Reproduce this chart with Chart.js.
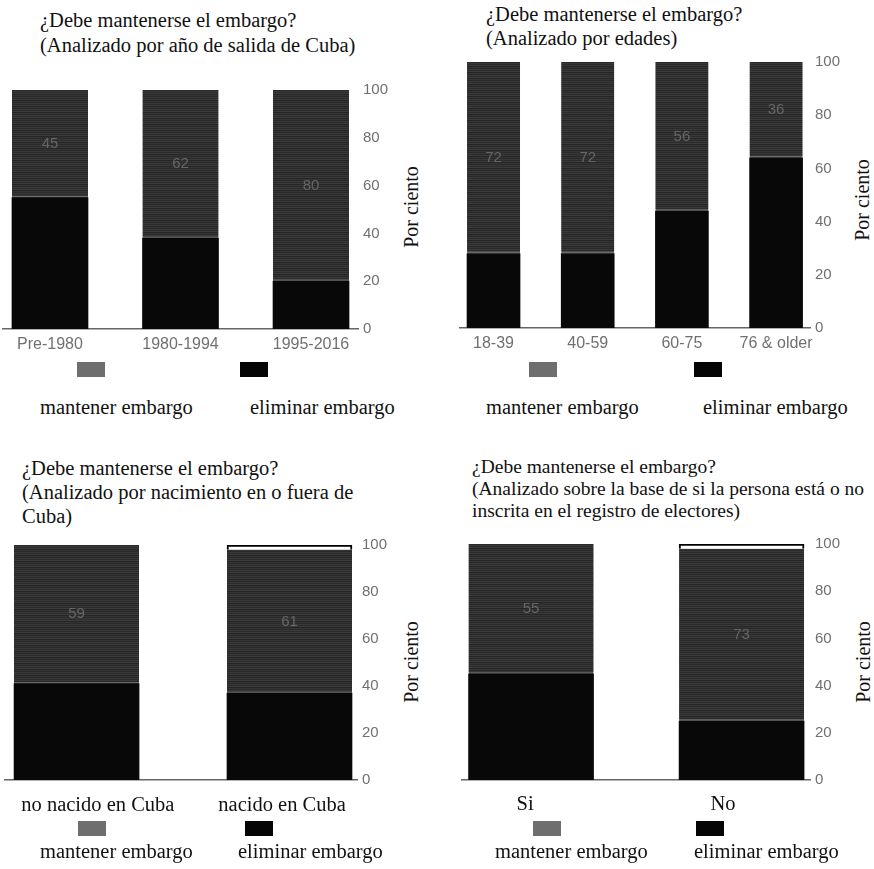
<!DOCTYPE html>
<html><head><meta charset="utf-8">
<script src="https://cdn.jsdelivr.net/npm/chart.js@4.4.1/dist/chart.umd.min.js"></script>
<style>
html,body{margin:0;padding:0;background:#fff;width:874px;height:869px;overflow:hidden;position:relative;font-family:'Liberation Serif','DejaVu Serif','Noto Serif','Times New Roman',Times,serif;color:#111;}
.cv{position:absolute;}
.t{position:absolute;white-space:nowrap;font-size:20.5px;line-height:24px;}
.sw{position:absolute;width:28px;height:15px;}
.lg{position:absolute;font-size:20.5px;line-height:22px;white-space:nowrap;transform:translateY(-50%);}
.yt{position:absolute;font-size:20px;line-height:22px;white-space:nowrap;transform:translate(-50%,-50%) rotate(-90deg);}
</style></head><body>

<div class="t" style="left:40px;top:8px;line-height:25px;">¿Debe mantenerse el embargo?<br>(Analizado por año de salida de Cuba)</div>
<div class="t" style="left:486px;top:2px;">¿Debe mantenerse el embargo?<br>(Analizado por edades)</div>
<div class="t" style="left:22px;top:456px;">¿Debe mantenerse el embargo?<br>(Analizado por nacimiento en o fuera de<br>Cuba)</div>
<div class="t" style="left:472px;top:456px;font-size:19.5px;line-height:22px;">¿Debe mantenerse el embargo?<br>(Analizado sobre la base de si la persona está o no<br>inscrita en el registro de electores)</div>

<canvas id="c1" class="cv" width="388" height="275" style="left:0px;top:80px;"></canvas>
<canvas id="c2" class="cv" width="383" height="302" style="left:457px;top:52px;"></canvas>
<canvas id="c3" class="cv" width="385" height="289" style="left:2px;top:535px;"></canvas>
<canvas id="c4" class="cv" width="381" height="290" style="left:459px;top:534px;"></canvas>

<div class="yt" style="left:411px;top:207px;">Por ciento</div>
<div class="yt" style="left:862px;top:200px;">Por ciento</div>
<div class="yt" style="left:411px;top:662px;">Por ciento</div>
<div class="yt" style="left:863px;top:662px;">Por ciento</div>

<div class="sw" style="left:77px;top:362px;background:#6e6e6e;"></div>
<div class="sw" style="left:240px;top:362px;background:#050505;"></div>
<div class="lg" style="left:40px;top:407px;">mantener embargo</div>
<div class="lg" style="left:250px;top:407px;">eliminar embargo</div>

<div class="sw" style="left:529px;top:362px;background:#6e6e6e;"></div>
<div class="sw" style="left:694px;top:362px;background:#050505;"></div>
<div class="lg" style="left:486px;top:407px;">mantener embargo</div>
<div class="lg" style="left:703px;top:407px;">eliminar embargo</div>

<div class="sw" style="left:78px;top:821px;background:#6e6e6e;"></div>
<div class="sw" style="left:245px;top:821px;background:#050505;"></div>
<div class="lg" style="left:40px;top:851px;">mantener embargo</div>
<div class="lg" style="left:238px;top:851px;">eliminar embargo</div>

<div class="sw" style="left:533px;top:821px;background:#6e6e6e;"></div>
<div class="sw" style="left:696px;top:821px;background:#050505;"></div>
<div class="lg" style="left:495px;top:851px;">mantener embargo</div>
<div class="lg" style="left:694px;top:851px;">eliminar embargo</div>

<script>
// ---- data ----
const yTicks = [0, 20, 40, 60, 80, 100];

const cats1 = ['Pre-1980', '1980-1994', '1995-2016'];
const eliminar1 = [55, 38, 20];
const mantener1 = [45, 62, 80];

const cats2 = ['18-39', '40-59', '60-75', '76 & older'];
const eliminar2 = [28, 28, 44, 64];
const mantener2 = [72, 72, 56, 36];

const cats3 = ['no nacido en Cuba', 'nacido en Cuba'];
const eliminar3 = [41, 37];
const mantener3 = [59, 61];
const otro3 = [0, 2];

const cats4 = ['Si', 'No'];
const eliminar4 = [45, 25];
const mantener4 = [55, 73];
const otro4 = [0, 2];

// ---- styling helpers ----
const SERIF = "'Liberation Serif', 'DejaVu Serif', 'Noto Serif', 'Times New Roman', Times, serif";
const SANS = "'Liberation Sans', Arial, sans-serif";

function stripePattern() {
  const c = document.createElement('canvas');
  c.width = 8; c.height = 6;
  const g = c.getContext('2d');
  const rows = ['#2c2c2c', '#3a3a3a', '#262626', '#343434', '#2a2a2a', '#383838'];
  rows.forEach((col, i) => { g.fillStyle = col; g.fillRect(0, i, 8, 1); });
  return g.createPattern(c, 'repeat');
}
const pattern = stripePattern();

const valueLabels = {
  id: 'valueLabels',
  afterDatasetsDraw(chart) {
    const ctx = chart.ctx;
    const meta = chart.getDatasetMeta(1);
    const ds = chart.data.datasets[1];
    ctx.save();
    ctx.fillStyle = '#666';
    ctx.font = '15px ' + SANS;
    ctx.textAlign = 'center';
    ctx.textBaseline = 'middle';
    meta.data.forEach((el, i) => {
      const p = el.getProps(['x', 'y', 'base'], true);
      ctx.fillText(String(ds.data[i].y), p.x, (p.y + p.base) / 2);
    });
    ctx.restore();
  }
};

function makeChart(id, cats, elim, mant, otro, o) {
  const pts = arr => arr.map((v, i) => ({ x: i, y: v }));
  const datasets = [
    { label: 'eliminar embargo', data: pts(elim), backgroundColor: '#080808', barThickness: o.bw },
    { label: 'mantener embargo', data: pts(mant), backgroundColor: pattern, barThickness: o.bw,
      borderColor: '#6a6a6a', borderWidth: { bottom: 2, top: 0, left: 0, right: 0 }, borderSkipped: false }
  ];
  if (otro) {
    datasets.push({ label: 'otro', data: pts(otro), backgroundColor: '#ffffff', barThickness: o.bw,
      borderColor: '#000', borderWidth: { top: 2, left: 2, right: 2, bottom: 0 }, borderSkipped: false });
  }
  const shift = o.shift || cats.map(() => 0);
  new Chart(document.getElementById(id), {
    type: 'bar',
    data: { datasets },
    options: {
      responsive: false,
      animation: false,
      events: [],
      layout: { padding: { left: 3, top: 10, right: 0, bottom: 0 } },
      plugins: { legend: { display: false }, tooltip: { enabled: false }, title: { display: false } },
      scales: {
        x: {
          type: 'linear', stacked: true, min: o.xmin, max: o.xmax, offset: false,
          grid: { display: false, drawTicks: false },
          border: { display: true, color: '#666', width: 1.5 },
          afterBuildTicks: s => { s.ticks = cats.map((c, i) => ({ value: i + shift[i] })); },
          afterFit: s => { s.height = o.xh; s.paddingLeft = 0; s.paddingRight = 0; },
          ticks: { autoSkip: false, maxRotation: 0, padding: o.xpad, color: o.xcolor, font: o.xfont,
                   callback: (v, idx) => cats[idx] }
        },
        y: {
          position: 'right', stacked: true, min: 0, max: 100,
          grid: { display: false, drawTicks: false },
          border: { display: false },
          afterBuildTicks: s => { s.ticks = yTicks.map(v => ({ value: v })); },
          afterFit: s => { s.width = 30; s.paddingTop = 0; s.paddingBottom = 0; },
          ticks: { padding: 5, color: '#707070', font: { family: SANS, size: 15 } }
        }
      }
    },
    plugins: [valueLabels]
  });
}

const sansTick = { family: SANS, size: 16 };
const serifTick = { family: SERIF, size: 20.5 };

makeChart('c1', cats1, eliminar1, mantener1, null,
  { bw: 76, xmin: -0.36, xmax: 2.36, xh: 26, xpad: 6, xcolor: '#707070', xfont: sansTick });
makeChart('c2', cats2, eliminar2, mantener2, null,
  { bw: 53, xmin: -0.356, xmax: 3.36, xh: 26, xpad: 6, xcolor: '#707070', xfont: sansTick });
makeChart('c3', cats3, eliminar3, mantener3, otro3,
  { bw: 125, xmin: -0.336, xmax: 1.317, xh: 44, xpad: 13, xcolor: '#111', xfont: serifTick, shift: [0.1, -0.035] });
makeChart('c4', cats4, eliminar4, mantener4, otro4,
  { bw: 125, xmin: -0.328, xmax: 1.325, xh: 44, xpad: 12, xcolor: '#111', xfont: serifTick, shift: [-0.028, -0.088] });
</script>
</body></html>
